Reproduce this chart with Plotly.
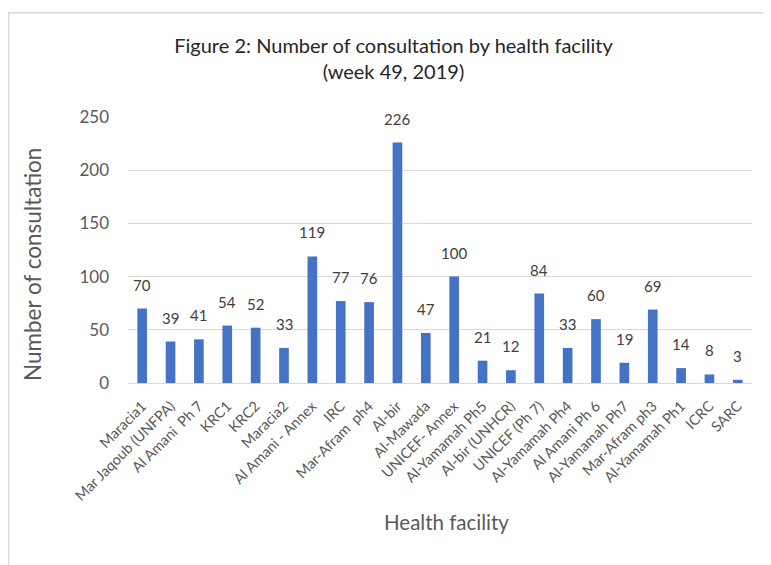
import plotly.graph_objects as go

# chart data
facilities = [
    "Maracia1", "Mar Jaqoub (UNFPA)", "Al Amani  Ph 7", "KRC1", "KRC2",
    "Maracia2", "Al Amani - Annex", "IRC", "Mar-Afram  ph4", "Al-bir",
    "Al-Mawada", "UNICEF- Annex", "Al-Yamamah Ph5", "Al-bir (UNHCR)",
    "UNICEF (Ph 7)", "Al-Yamamah Ph4", "Al Amani Ph 6", "Al-Yamamah Ph7",
    "Mar-Afram ph3", "Al-Yamamah Ph1", "ICRC", "SARC",
]
consultations = [70, 39, 41, 54, 52, 33, 119, 77, 76, 226, 47, 100,
                 21, 12, 84, 33, 60, 19, 69, 14, 8, 3]
y_ticks = [0, 50, 100, 150, 200, 250]

FONT = "Lato"
GREY = "#595959"

fig = go.Figure()

fig.add_trace(go.Bar(
    x=facilities,
    y=consultations,
    marker=dict(color="#4472C4", line=dict(width=0)),
    showlegend=False,
))

# value labels sit well above the bars, like Excel does
for f, v in zip(facilities, consultations):
    fig.add_annotation(
        x=f, y=v, text=str(v), showarrow=False,
        yanchor="bottom", yshift=13,
        font=dict(family=FONT, size=15, color="#404040"),
    )

# axis titles as annotations so they land where Excel put them
fig.add_annotation(
    xref="paper", yref="paper", x=0.51, y=-0.523,
    text="Health facility", showarrow=False,
    xanchor="center", yanchor="middle",
    font=dict(family=FONT, size=20.5, color=GREY),
)
fig.add_annotation(
    xref="paper", yref="paper", x=-0.152, y=0.444,
    text="Number of consultation", showarrow=False, textangle=-90,
    xanchor="center", yanchor="middle",
    font=dict(family=FONT, size=22.5, color=GREY),
)

# chart border
fig.add_shape(
    type="rect", xref="paper", yref="paper",
    x0=-0.1915, x1=1.06, y0=-0.8, y1=1.392,
    line=dict(color="#d9d9d9", width=1.5), fillcolor="rgba(0,0,0,0)",
    layer="below",
)

fig.update_layout(
    width=771, height=565,
    margin=dict(l=120, r=27, t=109, b=190),
    paper_bgcolor="white", plot_bgcolor="white",
    bargap=0.66,
    title=dict(
        text="Figure 2: Number of consultation by health facility<br>(week 49, 2019)",
        x=0.5, xref="container", xanchor="center",
        y=0.921, yref="container", yanchor="top",
        font=dict(family=FONT, size=20, color="#262626"),
    ),
    xaxis=dict(
        tickangle=-45,
        tickfont=dict(family=FONT, size=14.5, color=GREY),
        showgrid=False, showline=True, linecolor="#d9d9d9", linewidth=1,
        ticks="", automargin=False, ticklabelstandoff=8,
    ),
    yaxis=dict(
        range=[0, 250], tickvals=y_ticks,
        tickfont=dict(family=FONT, size=17, color=GREY),
        showgrid=True, gridcolor="#d9d9d9", gridwidth=1,
        zeroline=False, showline=False, ticklabelstandoff=18,
        automargin=False,
    ),
)

fig.write_html("out.html")
